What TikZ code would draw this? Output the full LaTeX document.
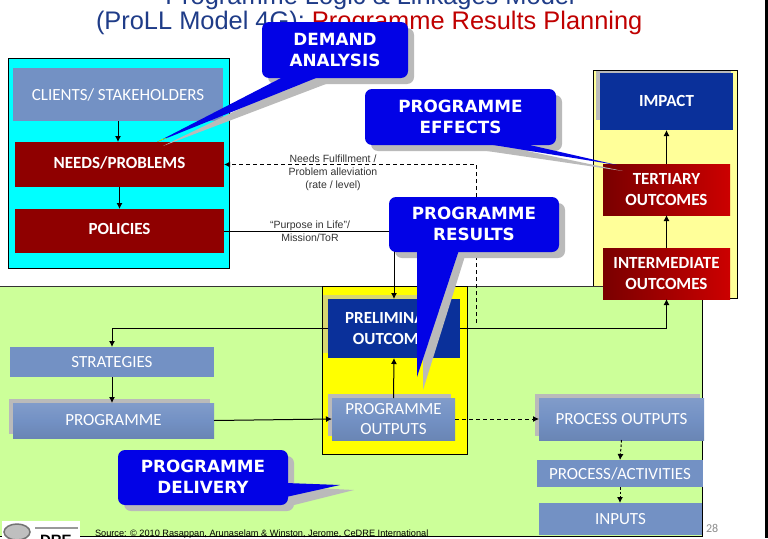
\documentclass[tikz,border=0pt]{standalone}
\usepackage{fontspec}
\setmainfont{Liberation Sans}
\newfontfamily\boxfont{Carlito}[Scale=1]
\newfontfamily\callfont{DejaVu Sans}
\usetikzlibrary{arrows.meta,calc}
\definecolor{bluegrey}{HTML}{7391C4}
\definecolor{darkred}{HTML}{8F0000}
\definecolor{midred}{HTML}{C00000}
\definecolor{navy}{HTML}{0A309A}
\definecolor{callblue}{HTML}{0202E6}
\definecolor{shadowgrey}{HTML}{BABABA}
\definecolor{panelgreen}{HTML}{CCFF99}
\definecolor{titleblue}{HTML}{1F3C88}
\definecolor{paleyellow}{HTML}{FFFF99}
\definecolor{purecyan}{HTML}{00FFFF}
\definecolor{pureyellow}{HTML}{FFFF00}
\tikzset{
  every node/.style={inner sep=0pt,outer sep=0pt},
  boxbase/.style={anchor=north west,align=center,text=white,font=\boxfont\fontsize{17}{20.5}\selectfont},
  greybox/.style={boxbase,fill=bluegrey},
  raisedgrey/.style={boxbase,top color=bluegrey!90!white,bottom color=bluegrey!92!black,middle color=bluegrey},
  redbox/.style={boxbase,fill=darkred,font=\boxfont\bfseries\fontsize{17}{20.5}\selectfont},
  shadedred/.style={boxbase,left color=darkred!85!black,right color=red!80!black,font=\boxfont\bfseries\fontsize{17}{20.5}\selectfont},
  navybox/.style={boxbase,fill=navy,font=\boxfont\bfseries\fontsize{17}{20.5}\selectfont},
  callbox/.style={anchor=north west,fill=callblue,rounded corners=7pt,align=center,text=white,font=\callfont\bfseries\fontsize{16.8}{21}\selectfont},
  callshadow/.style={anchor=north west,fill=shadowgrey,rounded corners=7pt},
  note/.style={align=center,text=black!80,font=\fontsize{10.5}{13}\selectfont},
  link/.style={draw=black,line width=1pt,-{Latex[length=6pt,width=6pt]}},
  dashlink/.style={link,dashed,dash pattern=on 4pt off 3pt},
}
\begin{document}
\begin{tikzpicture}[x=1pt,y=-1pt]
\useasboundingbox (0,0) rectangle (768,538);
\clip (0,0) rectangle (768,538);
\fill[white] (0,0) rectangle (768,538);
\fill[black] (765,0) rectangle (768,538);
% title
\node[anchor=base,text=titleblue,font=\fontsize{25.4}{30}\selectfont] (t1) at (370,5) {Programme Logic \& Linkages Model};
\node[anchor=base west,font=\fontsize{25.4}{30}\selectfont] (t2) at (96,29) {\textcolor{titleblue}{(ProLL Model 4G):} \textcolor{midred}{Programme Results Planning}};
% cyan panel
\draw[black,line width=.8pt,fill=purecyan] (8,58) rectangle (229,268);
\node[greybox,minimum width=210pt,minimum height=53pt] (clients) at (13,68) {CLIENTS/ STAKEHOLDERS};
\node[redbox,minimum width=209pt,minimum height=45pt] (needs) at (15,142) {\raisebox{3.5pt}{NEEDS/PROBLEMS}};
\node[redbox,minimum width=209pt,minimum height=44pt] (policies) at (15,209) {\raisebox{3.5pt}{POLICIES}};
% pale yellow panel
\draw[black,line width=.8pt,fill=paleyellow] (593,70) rectangle (737,298.5);
% green panel
\fill[panelgreen] (0,286) rectangle (702,536);
\draw[black!80,line width=1pt] (0,286) -- (322,286) (467,286) -- (603,286);
\draw[black,line width=1pt] (702,299) -- (702,536) -- (0,536);
% yellow panel
\draw[black,line width=.9pt,fill=pureyellow] (322,286) rectangle (467,454);
% top-right boxes
\fill[shadowgrey] (596,71) rectangle (731,120);
\node[navybox,minimum width=133pt,minimum height=57pt] (impact) at (600,73) {\raisebox{1.5pt}{IMPACT}};
\node[shadedred,minimum width=127pt,minimum height=51pt] (tertiary) at (603,164) {TERTIARY\\OUTCOMES};
\node[shadedred,minimum width=127pt,minimum height=51pt] (intermediate) at (603,248) {INTERMEDIATE\\OUTCOMES};
% middle boxes
\fill[shadowgrey!60!pureyellow] (323,295) rectangle (450,353);
\node[navybox,minimum width=132pt,minimum height=59pt] (prelim) at (328,299) {PRELIMINARY\\OUTCOMES};
\fill[shadowgrey] (328,394) rectangle (451,436);
\node[raisedgrey,minimum width=123pt,minimum height=42pt] (poutputs) at (332,398) {PROGRAMME\\OUTPUTS};
\node[greybox,minimum width=204pt,minimum height=30pt] (strategies) at (10,347) {STRATEGIES};
\fill[shadowgrey] (9,399) rectangle (210,434);
\node[raisedgrey,minimum width=201pt,minimum height=35pt] (programme) at (13,403) {PROGRAMME};
\fill[shadowgrey] (535,394) rectangle (700,436);
\node[raisedgrey,minimum width=165pt,minimum height=42pt] (processout) at (539,398) {PROCESS OUTPUTS};
\node[greybox,minimum width=166pt,minimum height=27pt] (activities) at (537,460) {PROCESS/ACTIVITIES};
\node[greybox,minimum width=163pt,minimum height=32pt] (inputs) at (539,503) {INPUTS};
% connectors
\draw[link] (clients.south) -- (clients.south |- needs.north);
\draw[link] (needs.south) -- (needs.south |- policies.north);
\draw[link] (strategies.south) -- (strategies.south |- programme.north);
\draw[link] (programme.east) -- (poutputs.west);
\draw[link] (poutputs.north) -- (prelim.south);
\draw[link] (policies.east) -| (prelim.north);
\draw[link] (prelim.west) -| (strategies.north);
\draw[link] (prelim.east) -| (intermediate.south);
\draw[link] (intermediate.north) -- (tertiary.south);
\draw[link] (tertiary.north) -- (impact.south);
\coordinate (dashstart) at (476,323);
\draw[dashlink] (dashstart) |- (needs.east);
\draw[dashlink] (poutputs.east) -- (processout.west);
\draw[dashlink,dash pattern=on 2.5pt off 2pt] (processout.south) -- (activities.north);
\draw[dashlink,dash pattern=on 2.5pt off 2pt] (activities.south) -- (activities.south |- inputs.north);
% link labels
\node[note] (needslabel) at (333,172.5) {Needs Fulfillment /\\Problem alleviation\\(rate / level)};
\node[note] (purposelabel) at (310,231.5) {“Purpose in Life”/\\Mission/ToR};
% callouts
\fill[shadowgrey] (291,84) -- (326,84) -- (163,146) -- cycle;
\node[callshadow,minimum width=146pt,minimum height=56pt] (demandshadow) at (268,28) {};
\fill[callblue] (285,76) -- (321,76) -- (157,142) -- cycle;
\fill[pureyellow!70!green] (168,137.6) -- (157,142) -- (162,139) -- cycle;
\node[callbox,minimum width=146pt,minimum height=56pt] (demand) at (262,22) {\raisebox{.8pt}{DEMAND}\\\raisebox{.8pt}{ANALYSIS}};
\fill[shadowgrey] (487,151) -- (527,151) -- (623,171) -- cycle;
\node[callshadow,minimum width=191pt,minimum height=56pt] (effectsshadow) at (371,95) {};
\fill[callblue] (481,143) -- (521,143) -- (617,165) -- cycle;
\node[callbox,minimum width=191pt,minimum height=56pt] (effects) at (365,89) {\raisebox{.8pt}{PROGRAMME}\\\raisebox{.8pt}{EFFECTS}};
\fill[shadowgrey] (423,256) -- (465,256) -- (423,390) -- cycle;
\node[callshadow,minimum width=170pt,minimum height=55pt] (resultsshadow) at (395,203) {};
\fill[callblue] (417,250) -- (459,250) -- (417,377) -- cycle;
\node[callbox,minimum width=170pt,minimum height=55pt] (results) at (389,197) {\raisebox{.8pt}{PROGRAMME}\\\raisebox{.8pt}{RESULTS}};
\fill[shadowgrey] (294,487) -- (294,505) -- (354,490) -- cycle;
\node[callshadow,minimum width=170pt,minimum height=55pt] (deliveryshadow) at (124,456) {};
\fill[callblue] (286,483) -- (286,497) -- (340,485) -- cycle;
\node[callbox,minimum width=170pt,minimum height=55pt] (delivery) at (118,450) {\raisebox{.8pt}{PROGRAMME}\\\raisebox{.8pt}{DELIVERY}};
% footer
\fill[white] (2,521) rectangle (80,538);
\draw[black!55,fill=black!25,line width=1.5pt] (17,532) ellipse (13pt and 8pt);
\fill[black!40] (35,527) rectangle (78,529);
\node[anchor=base west,text=black,font=\bfseries\fontsize{15}{18}\selectfont] (logo) at (40,545) {DRE};
\node[anchor=base west,text=black,font=\fontsize{9.2}{12}\selectfont] (source) at (95,536.5) {Source: © 2010 Rasappan, Arunaselam \& Winston, Jerome, CeDRE International};
\node[anchor=base west,text=black!45,font=\boxfont\fontsize{12}{14}\selectfont] (page) at (706,532) {28};
\end{tikzpicture}
\end{document}
